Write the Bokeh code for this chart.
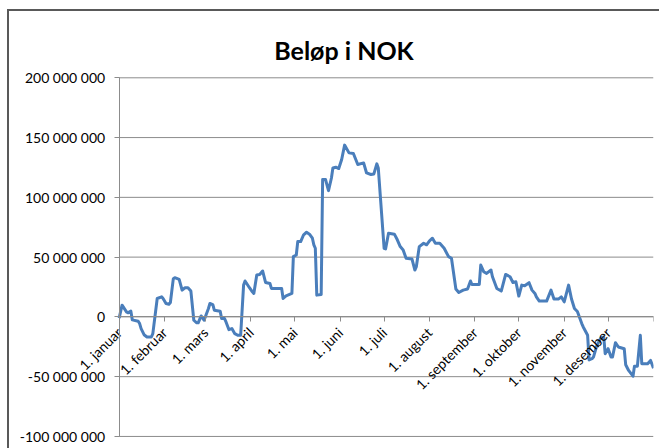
import math
from bokeh.plotting import figure
from bokeh.models import FixedTicker, ColumnDataSource, Label
from bokeh.embed import file_html
from bokeh.resources import INLINE

# Day of year (0 = 1. januar) and amount in million NOK
dag = [0, 2, 5, 6, 8, 9, 13, 14, 15, 17, 19, 22, 23, 26, 29, 30, 32, 34, 35, 37,
       38, 41, 43, 45, 47, 49, 51, 53, 54, 56, 58, 61, 62, 64, 65, 69, 70, 72, 73, 75,
       77, 79, 81, 83, 85, 86, 89, 91, 92, 94, 96, 98, 100, 103, 104, 111, 112, 114, 118, 119,
       121, 122, 124, 126, 128, 130, 132, 133, 134, 135, 138, 139, 141, 143, 145, 146, 148, 150, 152, 154,
       157, 160, 163, 167, 169, 172, 174, 176, 177, 181, 182, 184, 188, 190, 192, 194, 196, 200, 202, 203,
       205, 208, 210, 212, 214, 216, 219, 222, 225, 227, 230, 232, 235, 238, 240, 241, 246, 247, 249, 251,
       254, 255, 258, 261, 264, 267, 269, 271, 273, 275, 277, 280, 282, 284, 285, 287, 292, 295, 297, 300,
       302, 304, 307, 309, 311, 313, 316, 317, 320, 321, 323, 324, 326, 329, 331, 332, 334, 336, 337, 339,
       341, 345, 346, 348, 351, 352, 354, 356, 357, 361, 363, 365]
belop_mill = [-1, 9.8, 4.2, 3.4, 4.8, -2.5, -3.6, -5.6, -9.8, -14.9, -16.8, -16.8, -14, 15.4, 16.8, 15.4, 11.2, 10.6, 12, 32,
              32.8, 31.4, 22.4, 24.4, 24.4, 21.6, -2.8, -5, -5, 0.8, -2.8, 7, 11.2, 10.3, 5.6, 4.8, -1.4, -1.4, -4.2, -10.7,
              -9.8, -14, -15.4, -15.4, 26.6, 30, 24.4, 21, 19.6, 35, 35.5, 38.4, 28.8, 28, 23.8, 23.8, 15.4, 17.6, 19.6, 50.4,
              51.8, 63, 63, 68.7, 70.8, 69.2, 65.8, 60.3, 57.4, 18.2, 18.7, 114.9, 114.9, 105.6, 116.2, 124.6, 125.2, 124.1, 131.7, 143.7,
              137.2, 136.7, 127.5, 128.8, 120.4, 119.1, 119.6, 128, 124.6, 57.4, 56.9, 70, 69.2, 64.5, 58.8, 56, 49, 48.5, 39.2, 42,
              58.8, 61.6, 60.3, 63.6, 65.8, 61.6, 61.6, 57.4, 50.4, 49, 23.3, 20.4, 22.4, 23.3, 30, 27.1, 27.1, 43.4, 37.8, 36.4,
              39.2, 33.6, 23.8, 21.6, 35.5, 33.6, 28.8, 29.4, 17.4, 26.6, 26, 28.6, 22.4, 19.6, 16.8, 13.2, 13.2, 22.4, 14.9, 14.9,
              16.8, 12.6, 26.6, 15, 7, 4.5, -5.6, -8.4, -15.4, -36, -35, -33.6, -25, -17.6, -16.8, -30.8, -26.6, -33.6, -33.6, -21.6,
              -25.2, -26.6, -40, -44.8, -49.6, -41.2, -41.2, -15.4, -39.2, -39.2, -36.4, -42.9]

maaned_start = [0, 31, 59, 90, 120, 151, 181, 212, 243, 273, 304, 334, 365]
maaned_navn = ["1. januar", "1. februar", "1. mars", "1. april", "1. mai", "1. juni",
               "1. juli", "1. august", "1. september", "1. oktober", "1. november",
               "1. desember", ""]
y_ticks = [-100000000, -50000000, 0, 50000000, 100000000, 150000000, 200000000]
y_labels = ["-100 000 000", "-50 000 000", "0", "50 000 000", "100 000 000",
            "150 000 000", "200 000 000"]

source = ColumnDataSource(dict(x=dag, y=[v * 1e6 for v in belop_mill]))
grid_src = ColumnDataSource(dict(x0=[maaned_start[0]] * len(y_ticks),
                                 x1=[maaned_start[-1]] * len(y_ticks),
                                 y=y_ticks))

AXIS_GRAY = "#8c8c8c"
FONT = "Lato"

# The frame covers the canvas (except a right margin) so that the axis labels,
# drawn inside it, are never clipped; the ranges are padded accordingly.
p = figure(width=652, height=439, x_range=(-74.9, 365), y_range=(-111.76e6, 255.46e6),
           output_backend="svg", toolbar_location=None,
           min_border_left=0, min_border_right=8, min_border_top=0, min_border_bottom=0)
p.styles = {"margin-left": "7px", "margin-top": "9px",
            "border-left": "2px solid #595959", "border-top": "2px solid #595959"}
p.outline_line_color = None
p.background_fill_color = "white"
p.border_fill_color = "white"
p.xgrid.visible = False
p.ygrid.visible = False

p.add_layout(Label(x=334.5, y=401, x_units="screen", y_units="screen",
                   text="Beløp i NOK", text_align="center", text_baseline="alphabetic",
                   text_font=FONT, text_font_size="25px", text_font_style="bold",
                   text_color="#000000"))

# horizontal gridlines
p.segment(x0="x0", x1="x1", y0="y", y1="y", source=grid_src,
          line_color=AXIS_GRAY, line_width=1)

p.line("x", "y", source=source, line_color="#4A7EBB", line_width=3, line_join="round")

# y axis at day 0
yt = FixedTicker(ticks=y_ticks)
p.yaxis.fixed_location = maaned_start[0]
p.yaxis.bounds = (y_ticks[0], y_ticks[-1])
p.yaxis.ticker = yt
p.yaxis.major_label_overrides = dict(zip(y_ticks, y_labels))
p.yaxis.axis_line_color = AXIS_GRAY
p.yaxis.major_tick_line_color = AXIS_GRAY
p.yaxis.major_tick_out = 5
p.yaxis.major_tick_in = 0
p.yaxis.minor_tick_line_color = None
p.yaxis.major_label_text_font = FONT
p.yaxis.major_label_text_font_size = "14px"
p.yaxis.major_label_text_color = "#000000"
p.yaxis.major_label_standoff = 9

# x axis crossing at 0
xt = FixedTicker(ticks=maaned_start)
p.xaxis.fixed_location = 0
p.xaxis.bounds = (maaned_start[0], maaned_start[-1])
p.xaxis.ticker = xt
p.xaxis.major_label_overrides = dict(zip(maaned_start, maaned_navn))
p.xaxis.major_label_orientation = math.pi / 4
p.xaxis.axis_line_color = AXIS_GRAY
p.xaxis.major_tick_line_color = AXIS_GRAY
p.xaxis.major_tick_out = 5
p.xaxis.major_tick_in = 0
p.xaxis.minor_tick_line_color = None
p.xaxis.major_label_text_font = FONT
p.xaxis.major_label_text_font_size = "14px"
p.xaxis.major_label_text_color = "#000000"
p.xaxis.major_label_standoff = 8

open("out.html", "w").write(file_html(p, INLINE))
